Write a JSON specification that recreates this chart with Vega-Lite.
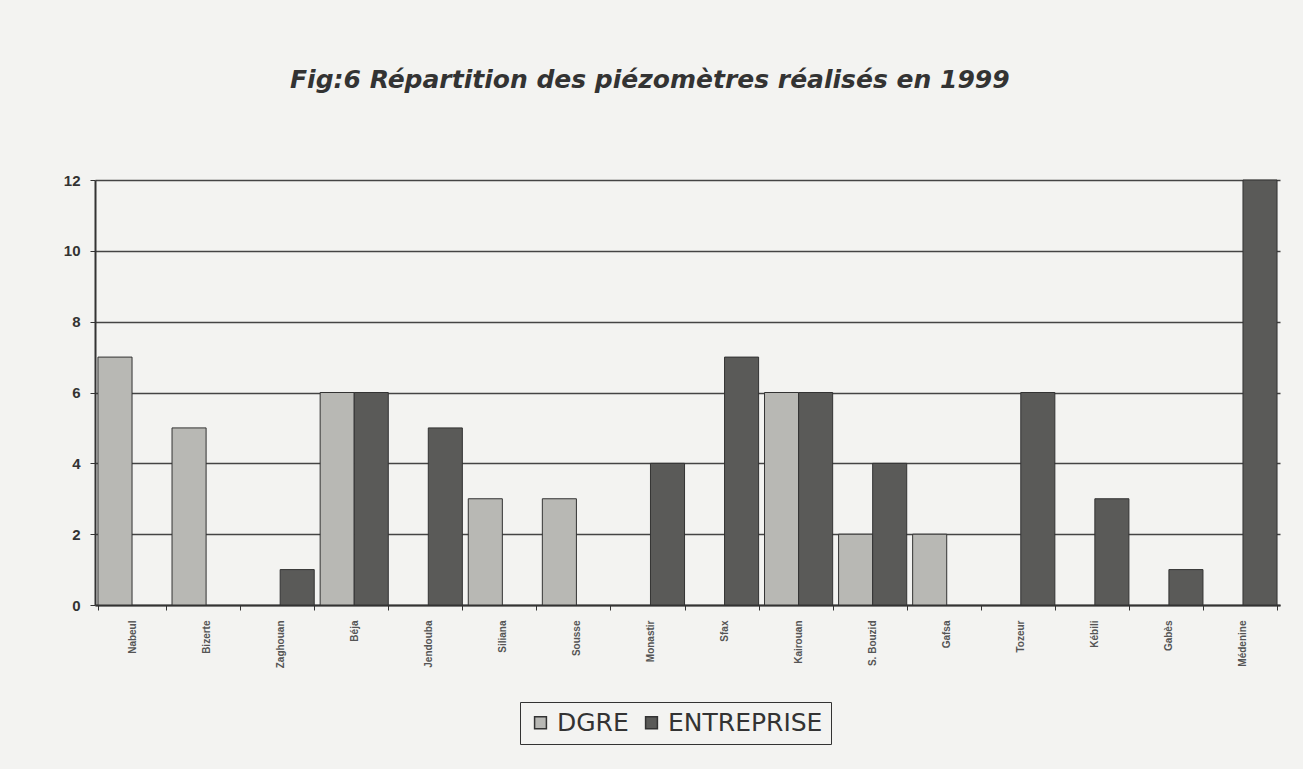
{
  "$schema": "https://vega.github.io/schema/vega-lite/v6.json",
  "autosize": "none",
  "width": 1185,
  "height": 425,
  "padding": {"left": 95, "top": 180, "right": 23, "bottom": 164},
  "background": "#f3f3f1",
  "title": {
    "text": "Fig:6 Répartition des piézomètres réalisés en 1999",
    "font": "DejaVu Sans",
    "fontSize": 25,
    "fontStyle": "italic",
    "fontWeight": "bold",
    "color": "#333",
    "anchor": "start",
    "frame": "group",
    "dx": 195,
    "offset": 80
  },
  "data": {
    "values": [
      {"lieu": "Nabeul", "source": "DGRE", "n": 7},
      {"lieu": "Nabeul", "source": "ENTREPRISE", "n": 0},
      {"lieu": "Bizerte", "source": "DGRE", "n": 5},
      {"lieu": "Bizerte", "source": "ENTREPRISE", "n": 0},
      {"lieu": "Zaghouan", "source": "DGRE", "n": 0},
      {"lieu": "Zaghouan", "source": "ENTREPRISE", "n": 1},
      {"lieu": "Béja", "source": "DGRE", "n": 6},
      {"lieu": "Béja", "source": "ENTREPRISE", "n": 6},
      {"lieu": "Jendouba", "source": "DGRE", "n": 0},
      {"lieu": "Jendouba", "source": "ENTREPRISE", "n": 5},
      {"lieu": "Siliana", "source": "DGRE", "n": 3},
      {"lieu": "Siliana", "source": "ENTREPRISE", "n": 0},
      {"lieu": "Sousse", "source": "DGRE", "n": 3},
      {"lieu": "Sousse", "source": "ENTREPRISE", "n": 0},
      {"lieu": "Monastir", "source": "DGRE", "n": 0},
      {"lieu": "Monastir", "source": "ENTREPRISE", "n": 4},
      {"lieu": "Sfax", "source": "DGRE", "n": 0},
      {"lieu": "Sfax", "source": "ENTREPRISE", "n": 7},
      {"lieu": "Kairouan", "source": "DGRE", "n": 6},
      {"lieu": "Kairouan", "source": "ENTREPRISE", "n": 6},
      {"lieu": "S. Bouzid", "source": "DGRE", "n": 2},
      {"lieu": "S. Bouzid", "source": "ENTREPRISE", "n": 4},
      {"lieu": "Gafsa", "source": "DGRE", "n": 2},
      {"lieu": "Gafsa", "source": "ENTREPRISE", "n": 0},
      {"lieu": "Tozeur", "source": "DGRE", "n": 0},
      {"lieu": "Tozeur", "source": "ENTREPRISE", "n": 6},
      {"lieu": "Kébili", "source": "DGRE", "n": 0},
      {"lieu": "Kébili", "source": "ENTREPRISE", "n": 3},
      {"lieu": "Gabès", "source": "DGRE", "n": 0},
      {"lieu": "Gabès", "source": "ENTREPRISE", "n": 1},
      {"lieu": "Médenine", "source": "DGRE", "n": 0},
      {"lieu": "Médenine", "source": "ENTREPRISE", "n": 12}
    ]
  },
  "transform": [{"filter": "datum.n > 0"}],
  "mark": {"type": "bar", "stroke": "#333", "strokeWidth": 1},
  "encoding": {
    "x": {
      "field": "lieu",
      "type": "nominal",
      "sort": null,
      "scale": {"paddingInner": 0.08, "paddingOuter": 0.04},
      "axis": {
        "title": null,
        "labelAngle": -90,
        "labelFont": "Liberation Sans",
        "labelFontSize": 10,
        "labelFontWeight": "bold",
        "labelColor": "#555",
        "labelPadding": 10,
        "domainColor": "#333",
        "domainWidth": 2,
        "tickColor": "#333",
        "ticks": true,
        "tickBand": "extent",
        "tickSize": 5
      }
    },
    "xOffset": {"field": "source", "type": "nominal", "scale": {"domain": ["DGRE", "ENTREPRISE"]}},
    "y": {
      "field": "n",
      "type": "quantitative",
      "scale": {"domain": [0, 12], "nice": false},
      "axis": {
        "title": null,
        "values": [0, 2, 4, 6, 8, 10, 12],
        "labelFont": "Liberation Sans",
        "labelFontSize": 15,
        "labelFontWeight": "bold",
        "labelColor": "#333",
        "labelPadding": 10,
        "grid": true,
        "gridColor": "#444",
        "gridWidth": 1.5,
        "domainColor": "#333",
        "domainWidth": 2,
        "tickColor": "#333",
        "tickSize": 5
      }
    },
    "color": {
      "field": "source",
      "type": "nominal",
      "scale": {"domain": ["DGRE", "ENTREPRISE"], "range": ["#b8b8b4", "#5a5a58"]},
      "legend": {
        "title": null,
        "orient": "none",
        "legendX": 425,
        "legendY": 522,
        "direction": "horizontal",
        "labelFont": "DejaVu Sans",
        "labelFontSize": 25,
        "labelColor": "#333",
        "labelLimit": 300,
        "symbolType": "square",
        "symbolSize": 140,
        "symbolStrokeColor": "#333",
        "columnPadding": 10,
        "strokeColor": "#333",
        "padding": 8
      }
    }
  },
  "config": {
    "view": {"stroke": null}
  }
}
